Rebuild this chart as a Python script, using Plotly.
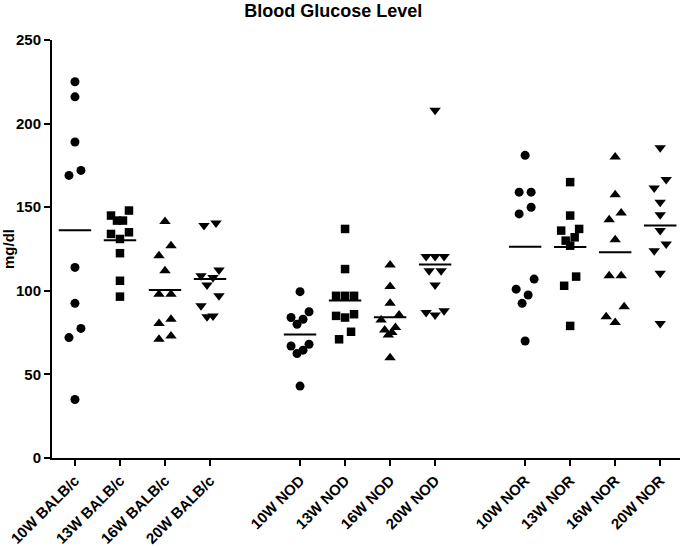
import plotly.graph_objects as go
import numpy as np

# ---- data (mg/dl) ----
strains = ["BALB/c", "NOD", "NOR"]
weeks = ["10W", "13W", "16W", "20W"]

balb_10 = [225, 216, 189, 172, 169, 114, 92.5, 77.5, 72, 35]
balb_13 = [148, 145, 142, 142, 135, 134, 131, 122.5, 106, 96.5]
balb_16 = [141.5, 127, 121, 112, 98, 98, 83, 80.5, 71, 73]
balb_20 = [140.5, 139, 112.5, 108, 109, 103.5, 97, 91, 84.5, 85]
nod_10 = [99.5, 87.5, 84, 83, 80, 68, 67, 64.5, 62.5, 43]
nod_13 = [137, 113, 97, 97, 97, 85, 84, 86, 75.5, 71]
nod_16 = [115.5, 102.5, 92.5, 85.5, 82.5, 78, 76.5, 75, 73.5, 60]
nod_20 = [208, 120.5, 120.5, 120.5, 112, 112, 103.5, 88, 85.5, 87]
nor_10 = [181, 159, 159, 150, 146, 107, 101, 97.5, 92.5, 70]
nor_13 = [165, 145, 137, 136, 132, 130, 127, 108.5, 103, 79]
nor_16 = [180, 157.5, 146.5, 142.5, 130.5, 109, 109, 90.5, 84.5, 81]
nor_20 = [185.5, 166.5, 161.5, 153, 145.5, 136, 128, 124, 110.5, 80.5]

series = [
    [balb_10, balb_13, balb_16, balb_20],
    [nod_10, nod_13, nod_16, nod_20],
    [nor_10, nor_13, nor_16, nor_20],
]
symbols = ["circle", "square", "triangle-up", "triangle-down"]
sizes = [9, 8.5, 10, 10]

PX_PER_CAT = 45.08


def swarm_offsets(vals, thresh=6.5):
    n = len(vals)
    order = sorted(range(n), key=lambda i: -vals[i])
    clusters, cur = [], [order[0]]
    for i in order[1:]:
        if vals[cur[-1]] - vals[i] < thresh:
            cur.append(i)
        else:
            clusters.append(cur)
            cur = [i]
    clusters.append(cur)
    off = [0.0] * n
    for c in clusters:
        m = len(c)
        if m == 1:
            continue
        step = 12 if m == 2 else min(9, 18 / (m - 1))
        slots = [(k - (m - 1) / 2) * step for k in range(m)]
        seq = []
        lo, hi = 0, m - 1
        while lo <= hi:
            seq.append(hi)
            if lo != hi:
                seq.append(lo)
            lo += 1
            hi -= 1
        for idx, s in zip(c, seq):
            off[idx] = slots[s]
    return [o / PX_PER_CAT for o in off]


fig = go.Figure()
tickvals, ticktext = [], []
for g, strain in enumerate(strains):
    for w, wk in enumerate(weeks):
        pos = g * 5 + w
        vals = series[g][w]
        offs = swarm_offsets(vals)
        tickvals.append(pos)
        ticktext.append(f"{wk} {strain}")
        fig.add_trace(go.Scatter(
            x=[pos + o for o in offs], y=vals, mode="markers",
            marker=dict(symbol=symbols[w], size=sizes[w], color="black",
                        line=dict(width=0)),
            showlegend=False, hoverinfo="y"))
        m = float(np.mean(vals))
        fig.add_trace(go.Scatter(
            x=[pos - 0.36, pos + 0.36], y=[m, m], mode="lines",
            line=dict(color="black", width=2), showlegend=False,
            hoverinfo="skip"))

font_family = "Arial, Liberation Sans, sans-serif"
fig.update_layout(
    width=680, height=547,
    margin=dict(l=52, r=0, t=40, b=89, autoexpand=False),
    paper_bgcolor="white", plot_bgcolor="white",
    title=dict(text="Blood Glucose Level", x=0.49, xanchor="center",
               yref="container", y=1 - 11 / 547, yanchor="middle",
               font=dict(family=font_family, size=18, color="black",
                         weight="bold")),
    xaxis=dict(range=[-0.51, 13.44], tickvals=tickvals, ticktext=ticktext,
               tickangle=-45, showline=True, linecolor="black", linewidth=2,
               ticks="outside", ticklen=6, tickwidth=2, tickcolor="black",
               showgrid=False, zeroline=False, automargin=False,
               tickfont=dict(family=font_family, size=15, color="black",
                             weight="bold")),
    yaxis=dict(range=[0, 250], tickvals=[0, 50, 100, 150, 200, 250],
               showline=True, linecolor="black", linewidth=2,
               ticks="outside", ticklen=6, tickwidth=2, tickcolor="black",
               showgrid=False, zeroline=False, automargin=False,
               title=dict(text="mg/dl", standoff=4,
                          font=dict(family=font_family, size=15,
                                    color="black", weight="bold")),
               tickfont=dict(family=font_family, size=15, color="black",
                             weight="bold")),
)

fig.write_html("out.html", config={"displayModeBar": False})

# remove the browser's default page margin so the figure sits at (0, 0)
with open("out.html", "r", encoding="utf-8") as f:
    html = f.read()
html = html.replace("<head>", "<head><style>html,body{margin:0;padding:0;overflow:hidden;}</style>", 1)
with open("out.html", "w", encoding="utf-8") as f:
    f.write(html)
